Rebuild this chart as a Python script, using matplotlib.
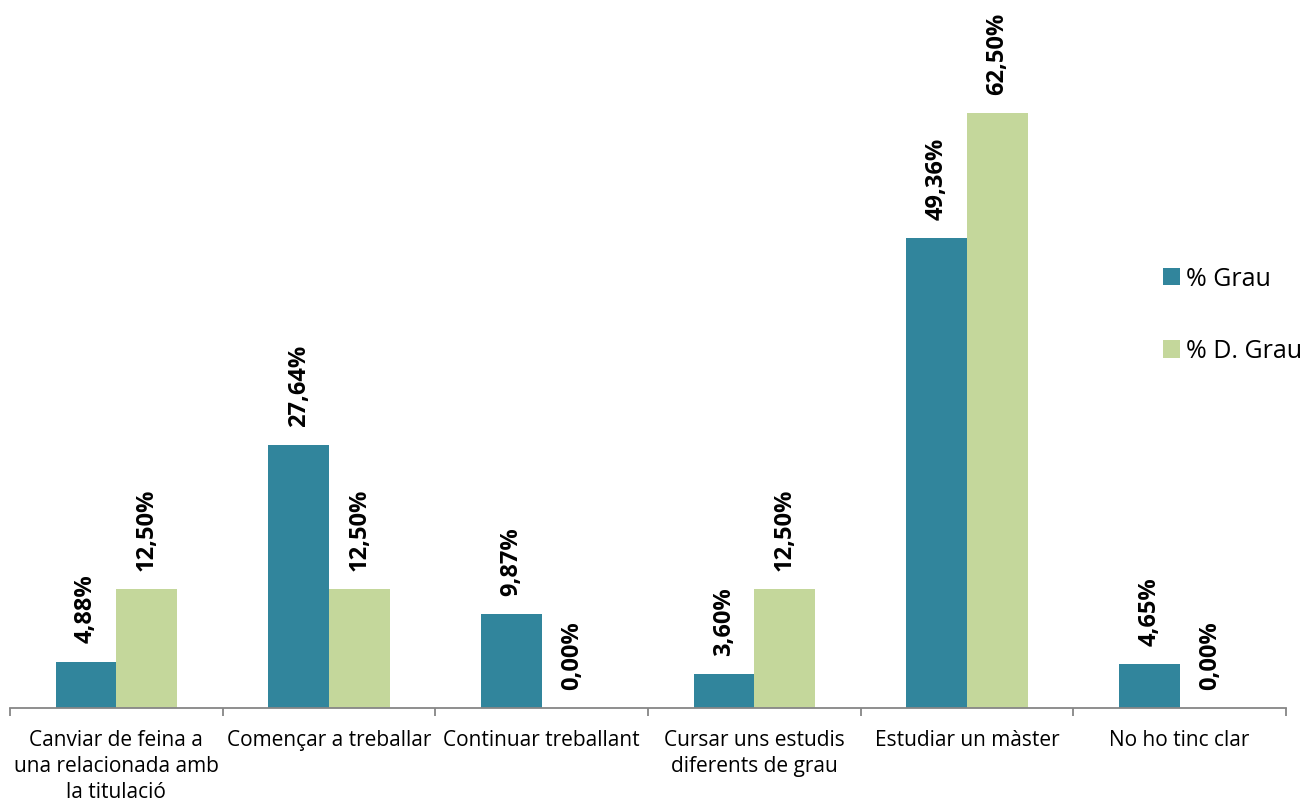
import matplotlib.pyplot as plt
import numpy as np

plt.rcParams['font.family'] = ['Open Sans', 'DejaVu Sans']

categories = ["Canviar de feina a\nuna relacionada amb\nla titulació",
              "Començar a treballar",
              "Continuar treballant",
              "Cursar uns estudis\ndiferents de grau",
              "Estudiar un màster",
              "No ho tinc clar"]
grau = [4.88, 27.64, 9.87, 3.60, 49.36, 4.65]
d_grau = [12.50, 12.50, 0.00, 12.50, 62.50, 0.00]
series_names = ["% Grau", "% D. Grau"]
colors = ["#31859C", "#C4D79B"]

W, H = 1305, 805
fig = plt.figure(figsize=(W / 100, H / 100), dpi=100)
ax = fig.add_axes([10 / W, (H - 708) / H, (1286 - 10) / W, 666.4 / H])

x = np.arange(len(categories))
bw = 0.285
b1 = ax.bar(x - bw / 2, grau, bw, color=colors[0], label=series_names[0])
b2 = ax.bar(x + bw / 2, d_grau, bw, color=colors[1], label=series_names[1])

# value labels, rotated, above each bar
for bars, vals in ((b1, grau), (b2, d_grau)):
    for rect, v in zip(bars, vals):
        ax.annotate(f"{v:.2f}%".replace('.', ','),
                    (rect.get_x() + rect.get_width() / 2, v),
                    xytext=(0, 13), textcoords='offset points',
                    rotation=90, ha='center', va='bottom',
                    fontsize=17, fontweight='bold')

ax.set_xlim(-0.5, len(categories) - 0.5)
ax.set_ylim(0, 70)
ax.set_yticks([])
for s in ('top', 'right', 'left'):
    ax.spines[s].set_visible(False)
ax.spines['bottom'].set_color('#868686')
ax.spines['bottom'].set_linewidth(1.3)

ax.set_xticks(np.arange(len(categories) + 1) - 0.5, minor=True)
ax.set_xticks(x)
ax.set_xticklabels(categories, fontsize=15, linespacing=1.32)
ax.tick_params(axis='x', which='major', length=0, pad=16)
ax.tick_params(axis='x', which='minor', length=6, width=1.3, color='#868686')

fig.legend(loc='upper left', bbox_to_anchor=(1140 / W, 1 - 244 / H),
           frameon=False, fontsize=18, handlelength=0.7, handleheight=0.7,
           handletextpad=0.25, labelspacing=1.9)

fig.savefig("out.png", dpi=100)
